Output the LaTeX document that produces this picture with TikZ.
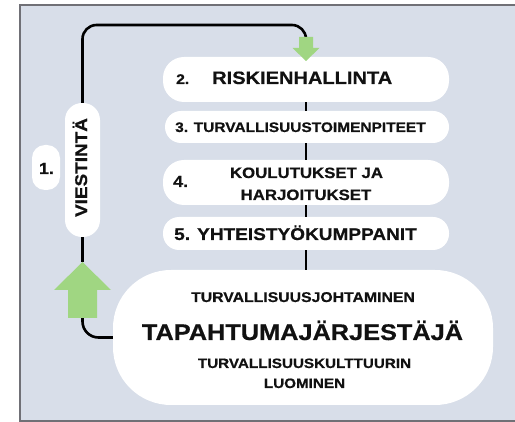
\documentclass[tikz,border=0pt]{standalone}
\usepackage{fontspec}
\setmainfont{Liberation Sans}[FakeStretch=1.12, BoldFeatures={FakeBold=0.6}]
\definecolor{bgc}{RGB}{216,222,233}
\definecolor{framec}{RGB}{112,112,118}
\definecolor{arrowg}{RGB}{160,214,130}
\definecolor{textc}{RGB}{17,17,17}
\newcommand{\fs}[1]{\bfseries\fontsize{#1}{#1}\selectfont}
\begin{document}
\begin{tikzpicture}[x=1pt,y=-1pt,
  pill/.style={fill=white, draw=none, inner sep=0pt},
  lbl/.style={inner sep=0pt, text=textc},
  conn/.style={line width=2.6pt, draw=black},
  garrow/.style={fill=arrowg, draw=none}]
\useasboundingbox (0,0) rectangle (515,422);
\fill[bgc] (20,5) rectangle (515,421);
\draw[line width=2.5pt, framec] (515,5) -- (20,5) -- (20,421) -- (515,421);

% boxes
\node[pill, rounded corners=21pt, minimum width=286pt, minimum height=45pt] (b2) at (306,79.5) {};
\node[pill, rounded corners=16pt, minimum width=284pt, minimum height=32pt] (b3) at (307,127) {};
\node[pill, rounded corners=21pt, minimum width=286pt, minimum height=45pt] (b4) at (306,182.5) {};
\node[pill, rounded corners=16pt, minimum width=286pt, minimum height=33pt] (b5) at (306,233.5) {};
\node[pill, rounded corners=58pt, minimum width=380pt, minimum height=135pt] (main) at (303,337.5) {};
\node[pill, rounded corners=17pt, minimum width=35pt, minimum height=134pt] (v) at (82.5,170) {};
\node[pill, rounded corners=13pt, minimum width=28pt, minimum height=45pt] (one) at (46,167.5) {};

% connectors between boxes
\draw[conn] (b2.south) -- (b2.south |- b3.north);
\draw[conn] (b4.north) -- (b4.north |- b3.south);
\draw[conn] (b4.south) -- (b5.north);
\draw[conn] (b5.south) -- (b5.south |- main.north);

% loop connectors
\coordinate (topA) at (306,38);
\coordinate (botTip) at (82.5,262);
\coordinate (botEnd) at (82.5,318);
\draw[conn, rounded corners=14pt] (v.north) -- (82.5,25) -- (306,25) -- (topA);
\draw[conn] (v.south) -- (botTip);
\draw[conn, rounded corners=16pt] (botEnd) |- (main.west);

% green arrows
\fill[garrow] (299,37) -- (313,37) -- (313,48) -- (319.5,48) -- (306,61) -- (292.5,48) -- (299,48) -- cycle;
\fill[garrow] (82.5,262) -- (111,290) -- (97,290) -- (97,318) -- (68,318) -- (68,290) -- (54,290) -- cycle;

% texts
\node[lbl, font=\fs{14}, anchor=base west] (n2) at (176,84) {2.};
\node[lbl, font=\fs{17.9}, anchor=base west] (t2) at (212,84) {RISKIENHALLINTA};
\node[lbl, font=\fs{13.8}, anchor=base west] (t3) at (175,132) {3. TURVALLISUUSTOIMENPITEET};
\node[lbl, font=\fs{16}, anchor=base west] (n4) at (173,187) {4.};
\node[lbl, font=\fs{15}, anchor=base] (t4a) at (306.5,178) {KOULUTUKSET JA};
\node[lbl, font=\fs{15}, anchor=base] (t4b) at (306,200) {HARJOITUKSET};
\node[lbl, font=\fs{17}, anchor=base west] (t5) at (174,240) {5. YHTEISTYÖKUMPPANIT};
\node[lbl, font=\fs{14.1}, anchor=base] (m1) at (303,302) {TURVALLISUUSJOHTAMINEN};
\node[lbl, font=\fs{22.6}, anchor=base] (m2) at (302.5,340) {TAPAHTUMAJÄRJESTÄJÄ};
\node[lbl, font=\fs{13.6}, anchor=base] (m3) at (304.5,368) {TURVALLISUUSKULTTUURIN};
\node[lbl, font=\fs{13.6}, anchor=base] (m4) at (304.5,388) {LUOMINEN};
\node[lbl, font=\fs{16.9}, anchor=base, rotate=90] (vt) at (87,167.5) {VIESTINTÄ};
\node[lbl, font=\fs{16}, anchor=base] (ot) at (46.5,174) {1.};
\end{tikzpicture}
\end{document}
